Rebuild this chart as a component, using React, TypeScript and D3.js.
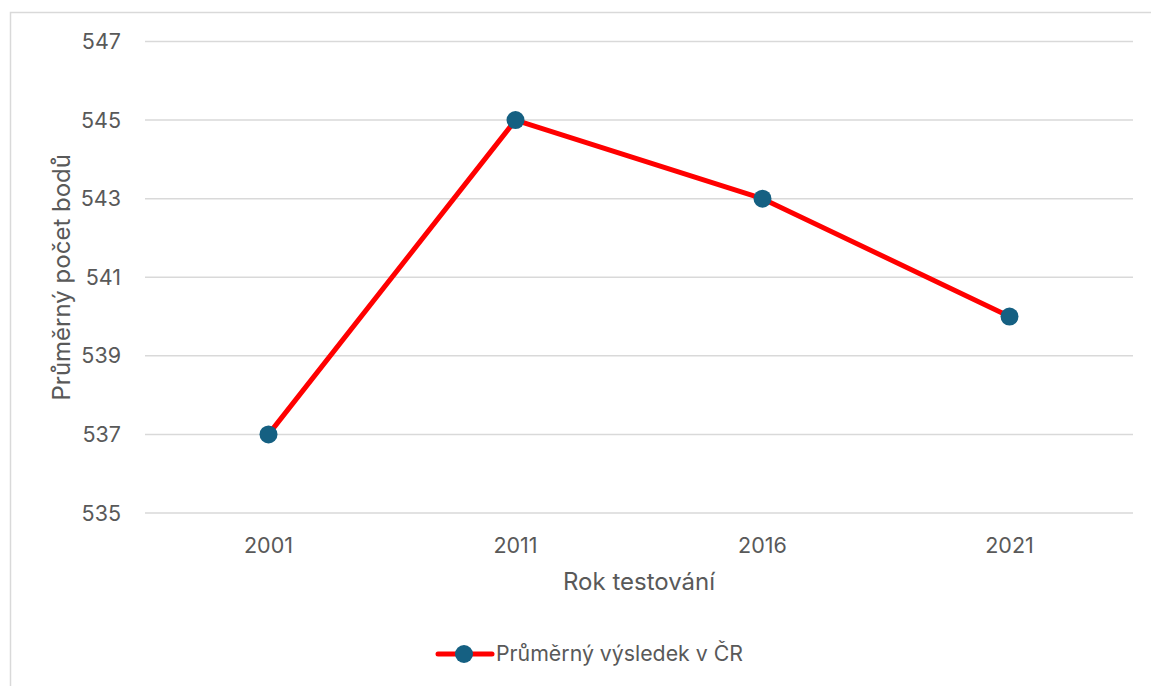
import React from "react";
import * as d3 from "d3";

const years = ["2001", "2011", "2016", "2021"];
const values = [537, 545, 543, 540];
const yTicks = [535, 537, 539, 541, 543, 545, 547];
const seriesName = "Průměrný výsledek v ČR";
const xTitle = "Rok testování";
const yTitle = "Průměrný počet bodů";

const W = 1151;
const H = 686;
const left = 145;
const right = 1133;
const top = 41.5;
const bottom = 513;
const FONT = "Inter, 'Open Sans', sans-serif";

export default function App() {
  const x = d3.scaleBand<string>().domain(years).range([left, right]).padding(0);
  const y = d3.scaleLinear().domain([535, 547]).range([bottom, top]);
  const cx = (d: string) => (x(d) as number) + x.bandwidth() / 2;
  const pts: [number, number][] = years.map((yr, i) => [cx(yr), y(values[i])]);
  const line = d3.line();

  return (
    <svg
      width={W}
      height={H}
      style={{ position: "fixed", left: 0, top: 0, background: "#fff" }}
    >
      <rect x={10.5} y={12.5} width={W} height={H} fill="#fff" stroke="#d9d9d9" strokeWidth={1.5} />
      {yTicks.map((t) => (
        <g key={t}>
          <line x1={left} x2={right} y1={y(t)} y2={y(t)} stroke="#d9d9d9" strokeWidth={1.5} />
          <text
            x={121}
            y={y(t)}
            dy="0.35em"
            textAnchor="end"
            fontSize={21.5}
            fill="#595959"
            fontFamily={FONT}
          >
            {t}
          </text>
        </g>
      ))}
      {years.map((yr) => (
        <text
          key={yr}
          x={cx(yr)}
          y={545}
          dy="0.35em"
          textAnchor="middle"
          fontSize={21.5}
          fill="#595959"
          fontFamily={FONT}
        >
          {yr}
        </text>
      ))}
      <text x={639} y={582} dy="0.35em" textAnchor="middle" fontSize={24} fill="#595959" fontFamily={FONT}>
        {xTitle}
      </text>
      <text
        transform={`translate(62,${(top + bottom) / 2}) rotate(-90)`}
        dy="0.35em"
        textAnchor="middle"
        fontSize={24}
        fill="#595959"
        fontFamily={FONT}
      >
        {yTitle}
      </text>
      <path d={line(pts) || ""} fill="none" stroke="#ff0000" strokeWidth={5} strokeLinejoin="round" />
      {pts.map((p, i) => (
        <circle key={i} cx={p[0]} cy={p[1]} r={9} fill="#156082" />
      ))}
      <line x1={438} x2={492} y1={654} y2={654} stroke="#ff0000" strokeWidth={5} strokeLinecap="round" />
      <circle cx={464} cy={654} r={9} fill="#156082" />
      <text x={496} y={654} dy="0.35em" fontSize={21.3} fill="#595959" fontFamily={FONT}>
        {seriesName}
      </text>
    </svg>
  );
}
